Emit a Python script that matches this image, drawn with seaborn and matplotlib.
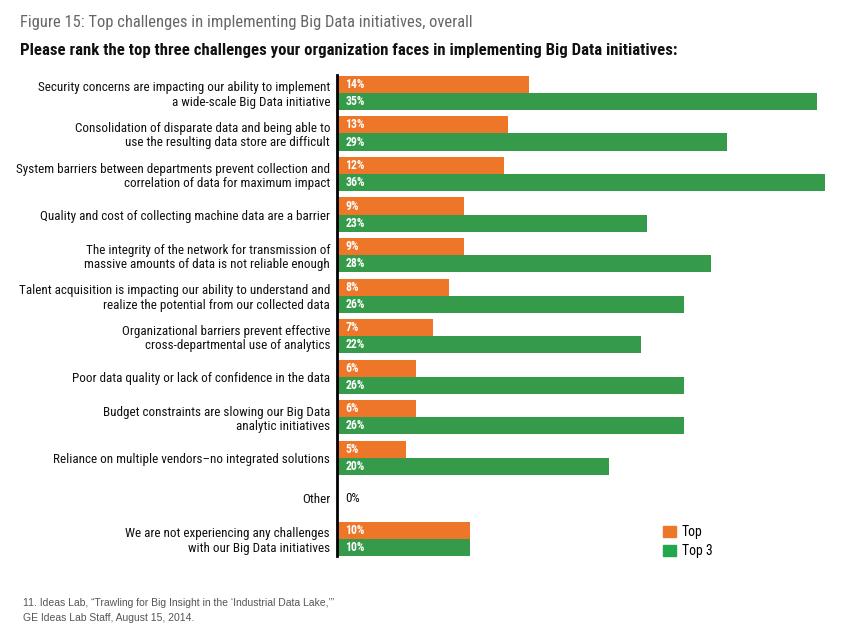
import matplotlib
matplotlib.use("Agg")
import matplotlib.pyplot as plt
import matplotlib.font_manager as fm
import pandas as pd
import seaborn as sns

challenges = [
    "Security concerns are impacting our ability to implement\na wide-scale Big Data initiative",
    "Consolidation of disparate data and being able to\nuse the resulting data store are difficult",
    "System barriers between departments prevent collection and\ncorrelation of data for maximum impact",
    "Quality and cost of collecting machine data are a barrier",
    "The integrity of the network for transmission of\nmassive amounts of data is not reliable enough",
    "Talent acquisition is impacting our ability to understand and\nrealize the potential from our collected data",
    "Organizational barriers prevent effective\ncross-departmental use of analytics",
    "Poor data quality or lack of confidence in the data",
    "Budget constraints are slowing our Big Data\nanalytic initiatives",
    "Reliance on multiple vendors\u2013no integrated solutions",
    "Other",
    "We are not experiencing any challenges\nwith our Big Data initiatives",
]
top = [14.2, 12.6, 12.3, 9.4, 9.4, 8.3, 7.1, 5.8, 5.8, 5.1, 0, 9.8]
top3 = [35.4, 28.8, 36.0, 22.9, 27.6, 25.6, 22.4, 25.6, 25.6, 20.1, 0, 9.8]

ORANGE = "#EE7628"
GREEN = "#359A4A"

installed = {f.name for f in fm.fontManager.ttflist}
narrow = "DejaVu Sans"
for name in ["Roboto Condensed", "Liberation Sans Narrow", "Archivo Narrow", "PT Sans Narrow",
             "Open Sans Condensed", "Roboto"]:
    if name in installed:
        narrow = name
        break
plt.rcParams["font.family"] = [narrow, "DejaVu Sans"]

df = pd.DataFrame({
    "challenge": challenges * 2,
    "pct": top + top3,
    "series": ["Top"] * len(top) + ["Top 3"] * len(top3),
})

fig = plt.figure(figsize=(8.65, 6.33), dpi=100)
ax = fig.add_axes([337 / 865, 1 - 556 / 633, (831.6 - 337) / 865, (556 - 75) / 633])

sns.barplot(data=df, x="pct", y="challenge", hue="series", orient="h",
            palette=[ORANGE, GREEN], width=0.84, dodge=True, ax=ax,
            saturation=1, legend=False, errorbar=None)

ax.set_xlim(0, 36.5)
ax.set_ylim(11.43, -0.444)
ax.set_xlabel("")
ax.set_ylabel("")
ax.set_xticks([])
for s in ["top", "right", "bottom"]:
    ax.spines[s].set_visible(False)
ax.spines["left"].set_linewidth(2)
ax.spines["left"].set_color("black")
ax.tick_params(axis="y", length=0, pad=5)

renderer = fig.canvas.get_renderer()


def fit_width(t, target_px):
    # scale font size so the text spans about target_px
    w = t.get_window_extent(renderer).width
    t.set_fontsize(t.get_fontsize() * target_px / w)
    return t.get_fontsize()


probe = fig.text(0, 0, "Security concerns are impacting our ability to implement", fontsize=10)
label_size = fit_width(probe, 289)
probe.remove()
for lbl in ax.get_yticklabels():
    lbl.set_fontsize(label_size)
    lbl.set_linespacing(1.15)
    lbl.set_color("#111111")

# value labels inside bars
val_size = label_size * 0.9
for i in range(len(challenges)):
    for val, off in [(top[i], -0.21), (top3[i], 0.21)]:
        if val == 0:
            continue
        ax.text(0.6, i + off, f"{val:.0f}%", color="white", fontweight="bold",
                fontsize=val_size, va="center", ha="left")
ax.text(0.6, 10, "0%", color="#111111", fontsize=label_size, va="center", ha="left")

t1 = fig.text(20 / 865, 1 - 22 / 633, "Figure 15: Top challenges in implementing Big Data initiatives, overall",
              fontsize=12, color="#666666", va="center", ha="left")
fit_width(t1, 452)
t2 = fig.text(20 / 865, 1 - 50 / 633, "Please rank the top three challenges your organization faces in implementing Big Data initiatives:",
              fontsize=12.5, fontweight="bold", color="#111111", va="center", ha="left")
fit_width(t2, 658)

handles = [plt.Rectangle((0, 0), 1, 1, color=ORANGE), plt.Rectangle((0, 0), 1, 1, color="#22A84A")]
fig.legend(handles, ["Top", "Top 3"], loc="upper left", bbox_to_anchor=(651 / 865, 1 - 513 / 633),
           frameon=False, handlelength=0.9, handleheight=0.9, handletextpad=0.45,
           labelspacing=0.35, prop={"size": label_size * 1.05})

foot = ["Liberation Sans", "DejaVu Sans"]
f1 = fig.text(23 / 865, 1 - 603 / 633, "11. Ideas Lab, \u201cTrawling for Big Insight in the \u2018Industrial Data Lake,\u2019\u201d",
              fontsize=8, color="#555555", va="center", ha="left", family=foot)
fs = fit_width(f1, 314)
fig.text(23 / 865, 1 - 618 / 633, "GE Ideas Lab Staff, August 15, 2014.",
         fontsize=fs, color="#555555", va="center", ha="left", family=foot)

fig.savefig("out.png", dpi=100)
